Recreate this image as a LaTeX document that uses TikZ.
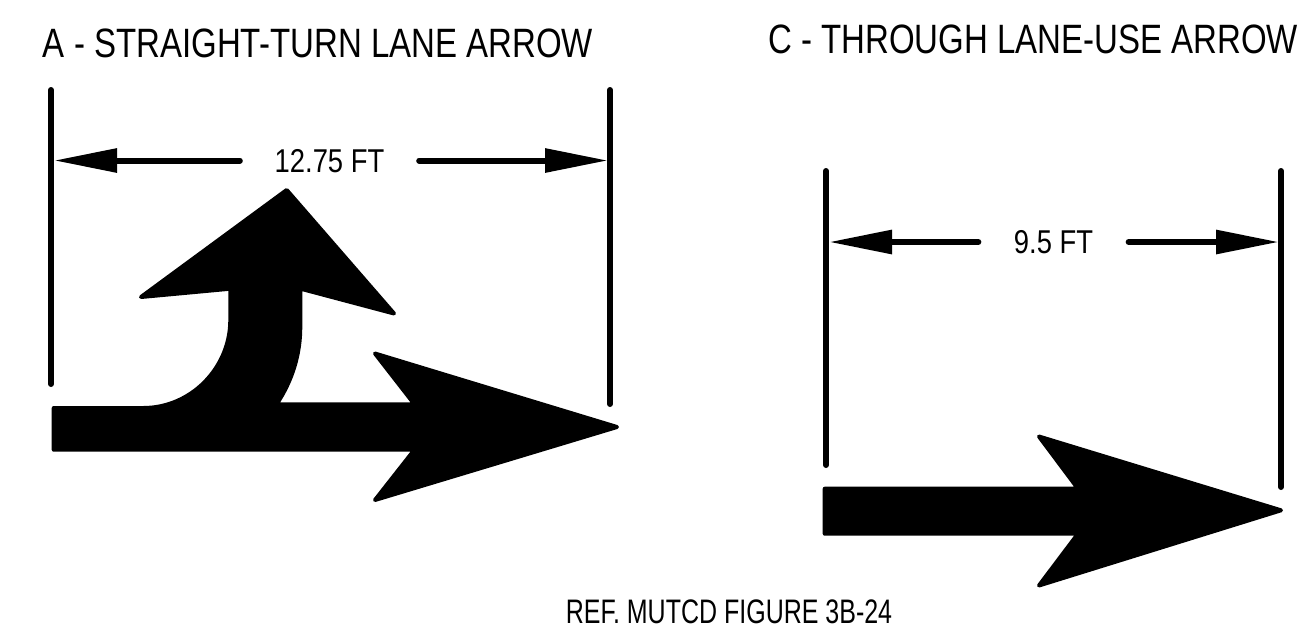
\documentclass[tikz,border=0pt]{standalone}
\usepackage{fontspec}
\setmainfont{Liberation Sans}
\usetikzlibrary{arrows.meta}
\tikzset{
	titletext/.style={inner sep=0pt,font=\fontsize{41}{41}\selectfont,xscale=0.805,text height=29.4pt,text depth=0pt},
	reftext/.style={inner sep=0pt,font=\fontsize{34}{34}\selectfont,xscale=0.735,text height=24.3pt,text depth=0pt},
	dimtext/.style={inner sep=0pt,font=\fontsize{33}{33}\selectfont,xscale=0.83,text height=23.6pt,text depth=0pt},
	bar/.style={line width=6pt,line cap=round},
	dimarrow/.style={line width=6pt,line cap=round,-{Triangle[length=63pt,width=23pt]}},
	bigarrow/.style={draw,fill=black,line width=4pt,line join=round}
}
\begin{document}
\begin{tikzpicture}[x=1pt,y=-1pt]
	\useasboundingbox (0,0) rectangle (1299,630);
	\node[titletext] (titleA) at (318,43) {A - STRAIGHT-TURN LANE ARROW};
	\node[titletext] (titleC) at (1033,39) {C - THROUGH LANE-USE ARROW};
	\node[reftext] (noteref) at (729,611) {REF. MUTCD FIGURE 3B-24};
	% left picture
	\coordinate (barAltop) at (51,90);
	\coordinate (barAlbot) at (51,384);
	\coordinate (barArtop) at (610,90);
	\coordinate (barArbot) at (610,404);
	\draw[bar] (barAltop) -- (barAlbot);
	\draw[bar] (barArtop) -- (barArbot);
	\node[dimtext,minimum width=215.7pt] (dimA) at (329.5,160.5) {12.75 FT};
	\coordinate (dimAl) at (54,160.5);
	\coordinate (dimAr) at (608,160.5);
	\draw[dimarrow] (dimA.west) -- (dimAl);
	\draw[dimarrow] (dimA.east) -- (dimAr);
	\draw[bigarrow] (53.7,408) -- (143.3,408) .. controls (191,408) and (230.3,368) .. (230.3,320) -- (230.3,288.7)
		-- (141,297) -- (286.7,190) -- (394,313.5) -- (300.3,288.6) -- (300.3,326.7)
		.. controls (300.3,355) and (292,381) .. (276.5,404.3) -- (414.5,404.3) -- (375,353.5) -- (617,427)
		-- (375,500) -- (414.5,449.7) -- (53.7,449.7) -- cycle;
	% right picture
	\coordinate (barCltop) at (826,171);
	\coordinate (barClbot) at (826,465);
	\coordinate (barCrtop) at (1281,171);
	\coordinate (barCrbot) at (1281,487);
	\draw[bar] (barCltop) -- (barClbot);
	\draw[bar] (barCrtop) -- (barCrbot);
	\node[dimtext,minimum width=180.7pt] (dimC) at (1053.5,242) {9.5 FT};
	\coordinate (dimCl) at (829,242);
	\coordinate (dimCr) at (1279,242);
	\draw[dimarrow] (dimC.west) -- (dimCl);
	\draw[dimarrow] (dimC.east) -- (dimCr);
	\draw[bigarrow] (824.7,488.7) -- (1078,488.7) -- (1039,436.5) -- (1281,510.3) -- (1039,585.5)
		-- (1078,533.7) -- (824.7,533.7) -- cycle;
\end{tikzpicture}
\end{document}
